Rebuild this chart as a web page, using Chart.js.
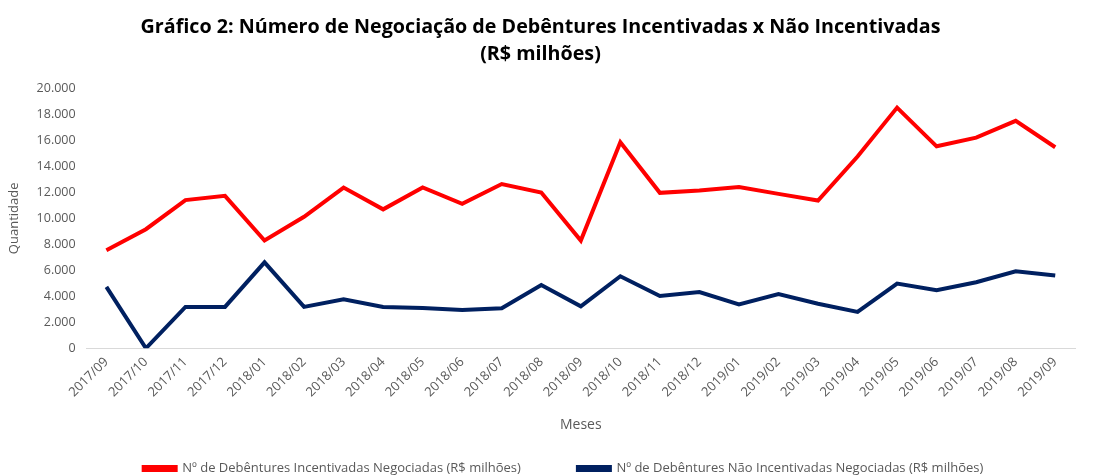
<!DOCTYPE html>
<html>
<head>
<meta charset="utf-8">
<script src="https://cdn.jsdelivr.net/npm/chart.js@4/dist/chart.umd.min.js"></script>
<style>
    body { margin: 0; background: #fff; }
    #wrap { width: 1099px; height: 475px; }
</style>
</head>
<body>
<div id="wrap"><canvas id="grafico" width="1099" height="475"></canvas></div>
<script>
// ===== Dados =====
const meses = [
    "2017/09", "2017/10", "2017/11", "2017/12", "2018/01", "2018/02", "2018/03",
    "2018/04", "2018/05", "2018/06", "2018/07", "2018/08", "2018/09", "2018/10",
    "2018/11", "2018/12", "2019/01", "2019/02", "2019/03", "2019/04", "2019/05",
    "2019/06", "2019/07", "2019/08", "2019/09"
];

const incentivadas = [
    7550, 9160, 11400, 11730, 8290, 10120, 12370, 10690, 12370, 11120, 12640, 11980,
    8290, 15850, 11960, 12140, 12410, 11880, 11370, 14760, 18520, 15540, 16210, 17500, 15470
];

const naoIncentivadas = [
    4730, 0, 3180, 3180, 6610, 3180, 3760, 3180, 3100, 2950, 3080, 4860,
    3230, 5540, 4020, 4320, 3380, 4170, 3430, 2800, 4980, 4470, 5080, 5920, 5600
];

const yTicks = [0, 2000, 4000, 6000, 8000, 10000, 12000, 14000, 16000, 18000, 20000];

const tituloLinhas = [
    "Gráfico 2: Número de Negociação de Debêntures Incentivadas x Não Incentivadas",
    "(R$ milhões)"
];

// ===== Formatação =====
const cinza = '#595959';
const fonte = "'Open Sans', 'Liberation Sans', sans-serif";
const fmt = v => v.toLocaleString('pt-BR');

// espaço largo entre itens da legenda sem aumentar a altura dela
const LEG_PAD = 57;
const LEG_SHIFT = 40;
const LEG_DESCE = 10;
const LEG_DIREITA = 23;
const legendaCompacta = {
    id: 'legendaCompacta',
    beforeInit(chart) {
        const leg = chart.legend;
        const fitOrig = leg.fit;
        leg.fit = function () {
            fitOrig.call(this);
            this.height -= LEG_SHIFT;
        };
    },
    afterLayout(chart) {
        const leg = chart.legend;
        leg.top -= (LEG_SHIFT - LEG_DESCE);
        leg.left += LEG_DIREITA;
        leg.right += LEG_DIREITA;
    }
};

// ===== Gráfico =====
const ctx = document.getElementById('grafico').getContext('2d');
new Chart(ctx, {
    type: 'line',
    data: {
        labels: meses,
        datasets: [
            {
                label: 'Nº de Debêntures Incentivadas Negociadas (R$ milhões)',
                data: incentivadas,
                borderColor: '#FF0000',
                backgroundColor: '#FF0000',
                borderWidth: 4,
                pointRadius: 0,
                tension: 0,
                fill: false
            },
            {
                label: 'Nº de Debêntures Não Incentivadas Negociadas (R$ milhões)',
                data: naoIncentivadas,
                borderColor: '#002060',
                backgroundColor: '#002060',
                borderWidth: 4,
                pointRadius: 0,
                tension: 0,
                fill: false
            }
        ]
    },
    plugins: [legendaCompacta],
    options: {
        responsive: false,
        animation: false,
        layout: { padding: { left: 6, right: 24, top: 0, bottom: 0 } },
        scales: {
            x: {
                offset: true,
                grid: { display: false, drawTicks: false },
                border: { color: '#D9D9D9', width: 1 },
                ticks: {
                    color: cinza,
                    font: { family: fonte, size: 13 },
                    maxRotation: 45,
                    minRotation: 45,
                    autoSkip: false,
                    padding: 6
                },
                title: {
                    display: true,
                    text: 'Meses',
                    color: cinza,
                    font: { family: fonte, size: 14 },
                    padding: { top: 10, bottom: 2 }
                }
            },
            y: {
                min: 0,
                max: 20000,
                afterBuildTicks: axis => { axis.ticks = yTicks.map(v => ({ value: v })); },
                grid: { display: false, drawTicks: false },
                border: { display: false },
                ticks: {
                    color: cinza,
                    font: { family: fonte, size: 12.5 },
                    padding: 11,
                    callback: v => fmt(v)
                },
                title: {
                    display: true,
                    text: 'Quantidade',
                    color: cinza,
                    font: { family: fonte, size: 13 },
                    padding: { top: 0, bottom: 4 }
                }
            }
        },
        plugins: {
            title: {
                display: true,
                text: tituloLinhas,
                color: '#000000',
                font: { family: fonte, size: 19.7, weight: 'bold', lineHeight: 1.38 },
                padding: { top: 14, bottom: 20 }
            },
            legend: {
                position: 'bottom',
                labels: {
                    color: cinza,
                    font: { family: fonte, size: 13 },
                    boxWidth: 32,
                    boxHeight: 3,
                    padding: LEG_PAD
                }
            },
            tooltip: { enabled: false }
        }
    }
});
</script>
</body>
</html>
